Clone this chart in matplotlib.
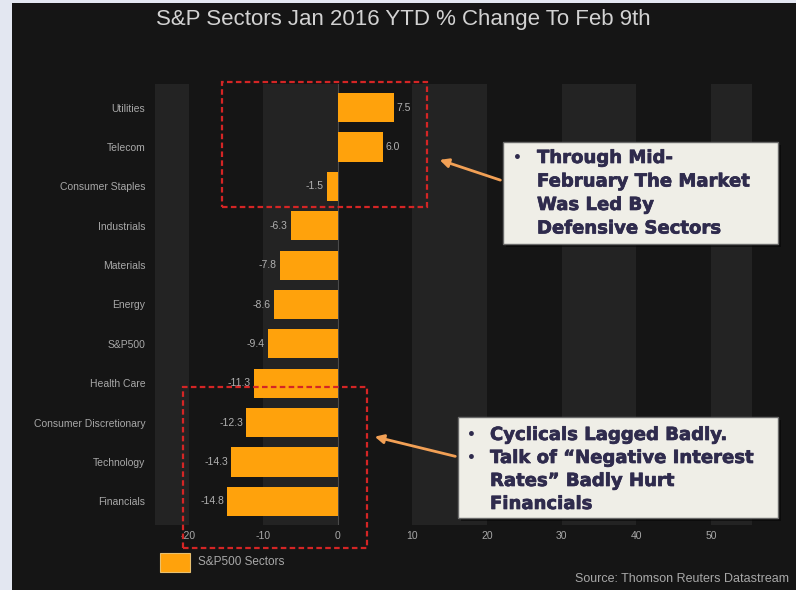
import matplotlib.pyplot as plt
import matplotlib.patheffects as pe
from matplotlib.patches import Rectangle, FancyArrowPatch

W, H = 796, 590

sectors = ["Utilities", "Telecom", "Consumer Staples", "Industrials", "Materials",
           "Energy", "S&P500", "Health Care", "Consumer Discretionary",
           "Technology", "Financials"]
ytd_change = [7.5, 6.0, -1.5, -6.3, -7.8, -8.6, -9.4, -11.3, -12.3, -14.3, -14.8]
x_ticks = [-20, -10, 0, 10, 20, 30, 40, 50]

title = "S&P Sectors Jan 2016 YTD % Change To Feb 9th"
note_top = ["Through Mid-", "February The Market", "Was Led By", "Defensive Sectors"]
note_bottom = [["Cyclicals Lagged Badly."],
               ["Talk of \u201cNegative Interest", "Rates\u201d Badly Hurt", "Financials"]]

BG = "#151515"
BAND = "#232323"
ORANGE = "#ffa20c"
TXT = "#a8a8a8"
RED = "#d42525"
NAVY = "#2f2b4d"

plt.rcParams["font.family"] = ["Liberation Sans", "DejaVu Sans"]


def px(x, y):
    # pixel position (from top-left) -> figure fraction
    return x / W, 1 - y / H


fig = plt.figure(figsize=(W / 100, H / 100), dpi=100, facecolor="#e3e7f1")
# dark slide panel over the light frame
fig.add_artist(Rectangle(px(12, H), (W - 12) / W, (H - 3) / H,
                         transform=fig.transFigure, facecolor=BG, edgecolor="none", zorder=0))

ax = fig.add_axes([155 / W, 1 - 525 / H, (752 - 155) / W, (525 - 84) / H])
ax.set_facecolor(BG)
ax.set_xlim(-24.5, 55.5)
ax.set_ylim(len(sectors) - 0.4, -0.6)

for lo in range(-30, 60, 20):
    ax.axvspan(lo, lo + 10, color=BAND, lw=0, zorder=0)
ax.axvline(0, color="#4a4a4a", lw=0.8, zorder=1)

ypos = range(len(sectors))
ax.barh(ypos, ytd_change, height=0.74, color=ORANGE, zorder=2)
for y, v in zip(ypos, ytd_change):
    ax.text(v + (0.4 if v > 0 else -0.4), y, f"{v:.1f}", ha="left" if v > 0 else "right",
            va="center", fontsize=7.5, color="#b0b0b0", zorder=3)

ax.set_yticks(list(ypos))
ax.set_yticklabels(sectors, fontsize=7.5, color=TXT)
ax.set_xticks(x_ticks)
ax.set_xticklabels([str(t) for t in x_ticks], fontsize=7.5, color=TXT)
ax.tick_params(length=0, pad=7)
ax.tick_params(axis="x", pad=4)
for s in ax.spines.values():
    s.set_visible(False)

fig.text(*px(403, 20), title, ha="center", va="center", fontsize=16, color="#d2d2d2")

# red dashed highlight boxes
for x0, y0, x1, y1 in [(222, 82, 427, 207), (183, 387, 367, 548)]:
    fig.add_artist(Rectangle(px(x0, y1), (x1 - x0) / W, (y1 - y0) / H,
                             transform=fig.transFigure, fill=False, edgecolor=RED,
                             lw=1.6, ls=(0, (2.5, 1.5)), zorder=5))

# callout boxes
for x0, y0, x1, y1 in [(503, 142, 778, 244), (458, 417, 778, 518)]:
    fig.add_artist(Rectangle(px(x0 + 3, y1 + 3), (x1 - x0) / W, (y1 - y0) / H,
                             transform=fig.transFigure, facecolor="#050505",
                             edgecolor="none", alpha=0.6, zorder=5))
    fig.add_artist(Rectangle(px(x0, y1), (x1 - x0) / W, (y1 - y0) / H,
                             transform=fig.transFigure, facecolor="#efeee7",
                             edgecolor="#6a6a6a", lw=1, zorder=6))

note_kw = dict(fontsize=13, fontweight="bold", color=NAVY, va="center",
               family=["DejaVu Sans"], zorder=7,
               path_effects=[pe.withStroke(linewidth=0.5, foreground=NAVY)])
bullet_kw = dict(note_kw, fontsize=10, path_effects=[])
fig.text(*px(513, 158), "\u2022", **bullet_kw)
for i, line in enumerate(note_top):
    fig.text(*px(537, 158 + i * 23.5), line, **note_kw)

row = 0
for item in note_bottom:
    fig.text(*px(467, 435 + row * 23), "\u2022", **bullet_kw)
    for line in item:
        fig.text(*px(490, 435 + row * 23), line, **note_kw)
        row += 1

# arrows pointing back at the highlight boxes
for tail, tip in [((503, 181), (437, 159)), ((458, 457), (372, 436))]:
    fig.add_artist(FancyArrowPatch(px(*tail), px(*tip), transform=fig.transFigure,
                                   arrowstyle="-|>", mutation_scale=13,
                                   color="#f2a055", lw=2, zorder=6))

# legend
fig.add_artist(Rectangle(px(160, 572), 30 / W, 19 / H, transform=fig.transFigure,
                         facecolor=ORANGE, edgecolor="#e8c070", lw=0.8, zorder=5))
fig.text(*px(198, 562), "S&P500 Sectors", fontsize=8.5, color=TXT, va="center")
fig.text(*px(789, 579), "Source: Thomson Reuters Datastream", fontsize=9,
         color=TXT, ha="right", va="center")

fig.savefig("out.png", dpi=100, facecolor=fig.get_facecolor())
